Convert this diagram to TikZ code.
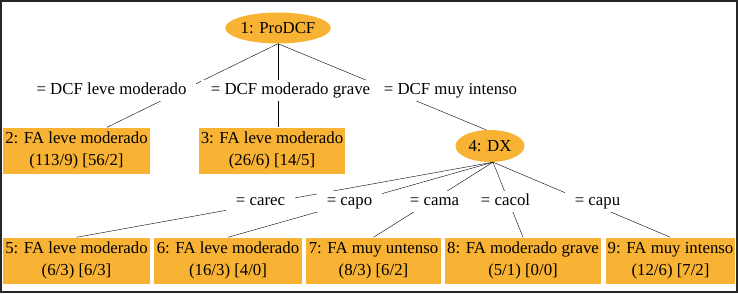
\documentclass[tikz,border=0pt]{standalone}
\usepackage{fontspec}
\setmainfont{Liberation Serif}
\usepackage{xcolor}
\usetikzlibrary{shapes.geometric}
\definecolor{treeorange}{RGB}{248,178,52}

\tikzset{
    txt/.style={font=\fontsize{16.8}{21.5}\selectfont},
    decision/.style={txt,ellipse,fill=treeorange,inner sep=0pt},
    leaf/.style={txt,rectangle,fill=treeorange,inner sep=0pt,align=center,minimum height=46pt},
    cond/.style={txt,rectangle,fill=white,inner xsep=10pt,inner ysep=0pt,
        text height=12pt,text depth=4pt,minimum height=21pt}
}

\begin{document}
\begin{tikzpicture}[x=1pt,y=-1pt]
    \useasboundingbox (0,0) rectangle (738,294);
    % Frame
    \draw[line width=1.5pt,black!85] (1,1) rectangle (737,292);

    % Decision nodes
    \node[decision,minimum width=100pt,minimum height=31pt] (root) at (278,28) {1: ProDCF};
    \node[decision,minimum width=69pt,minimum height=32pt] (dx) at (490,146) {4: DX};

    % Leaves
    \node[leaf,minimum width=147pt] (n2) at (76.5,150.5) {2: FA leve moderado\\(113/9) [56/2]};
    \node[leaf,minimum width=146pt] (n3) at (272,150.5) {3: FA leve moderado\\(26/6) [14/5]};
    \node[leaf,minimum width=147pt] (n5) at (76.5,260.5) {5: FA leve moderado\\(6/3) [6/3]};
    \node[leaf,minimum width=148pt] (n6) at (228,260.5) {6: FA leve moderado\\(16/3) [4/0]};
    \node[leaf,minimum width=135pt] (n7) at (373.5,260.5) {7: FA muy untenso\\(8/3) [6/2]};
    \node[leaf,minimum width=156pt] (n8) at (523,260.5) {8: FA moderado grave\\(5/1) [0/0]};
    \node[leaf,minimum width=129pt] (n9) at (670.5,260.5) {9: FA muy intenso\\(12/6) [7/2]};

    % Edges
    \draw (root.south) -- ([xshift=30.5pt]n2.north);
    \draw (root.south) -- ([xshift=6pt]n3.north);
    \draw (root.south) -- ([xshift=-4pt]dx.north);
    \foreach \n in {n5,n6,n7,n8,n9} {
        \draw ([xshift=3pt]dx.south) -- (\n.north);
    }

    % Edge labels
    \node[cond] (c2) at (111.5,90.5) {= DCF leve moderado};
    \node[cond] (c3) at (290.5,90.5) {= DCF moderado grave};
    \node[cond] (c4) at (450.5,90.5) {= DCF muy intenso};
    \node[cond] (c5) at (260.5,201.5) {= carec};
    \node[cond] (c6) at (349.5,201.5) {= capo};
    \node[cond] (c7) at (434.5,201.5) {= cama};
    \node[cond] (c8) at (505.5,201.5) {= cacol};
    \node[cond] (c9) at (597.5,201.5) {= capu};
\end{tikzpicture}
\end{document}
